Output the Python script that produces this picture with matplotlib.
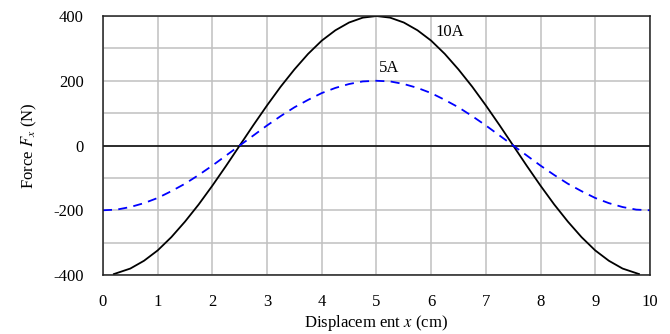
import matplotlib
matplotlib.use("Agg")
import matplotlib.pyplot as plt

plt.rcParams["font.family"] = ["Liberation Serif", "DejaVu Serif"]
plt.rcParams["mathtext.fontset"] = "stix"
plt.rcParams["axes.unicode_minus"] = False

# readings from the reference (x in cm, force in N)
x_10a = [0.2, 0.5, 0.75, 1.0, 1.25, 1.5, 1.75, 2.0, 2.25, 2.5, 2.75,
         3.0, 3.25, 3.5, 3.75, 4.0, 4.25, 4.5, 4.75, 5.0,
         5.25, 5.5, 5.75, 6.0, 6.25, 6.5, 6.75, 7.0, 7.25, 7.5,
         7.75, 8.0, 8.25, 8.5, 8.75, 9.0, 9.25, 9.5, 9.8]
f_10a = [-397, -380, -356, -324, -283, -235, -182, -124, -63, 0, 63,
         124, 182, 235, 283, 324, 356, 380, 395, 400,
         395, 380, 356, 324, 283, 235, 182, 124, 63, 0,
         -63, -124, -182, -235, -283, -324, -356, -380, -397]

x_5a = [0.0, 0.25, 0.5, 0.75, 1.0, 1.25, 1.5, 1.75, 2.0, 2.25, 2.5,
        2.75, 3.0, 3.25, 3.5, 3.75, 4.0, 4.25, 4.5, 4.75, 5.0,
        5.25, 5.5, 5.75, 6.0, 6.25, 6.5, 6.75, 7.0, 7.25, 7.5,
        7.75, 8.0, 8.25, 8.5, 8.75, 9.0, 9.25, 9.5, 9.75, 10.0]
f_5a = [-200, -198, -190, -178, -162, -141, -118, -91, -62, -31, 0,
        31, 62, 91, 118, 141, 162, 178, 190, 198, 200,
        198, 190, 178, 162, 141, 118, 91, 62, 31, 0,
        -31, -62, -91, -118, -141, -162, -178, -190, -198, -200]

x_ticks = list(range(0, 11))
y_ticks = [-400, -200, 0, 200, 400]

fig = plt.figure(figsize=(6.7, 3.34), dpi=100)
ax = fig.add_axes([0.1537, 0.1766, 0.8163, 0.7754])

ax.set_xlim(0, 10)
ax.set_ylim(-400, 400)
ax.set_xticks(x_ticks)
ax.set_yticks(y_ticks)
ax.set_yticks(range(-400, 401, 100), minor=True)
ax.grid(True, which="both", color="#c0c0c0", lw=1.1)
ax.set_axisbelow(True)
ax.tick_params(which="both", length=0, labelsize=12)
ax.tick_params(axis="x", pad=14)
ax.tick_params(axis="y", pad=14)
for s in ax.spines.values():
    s.set_color("#202020")
    s.set_linewidth(1.1)

ax.axhline(0, color="black", lw=1.1)

ax.plot(x_10a, f_10a, color="black", lw=1.3)
ax.plot(x_5a, f_5a, color="#0000ff", lw=1.3, linestyle=(0, (5, 3.5)))

ax.text(6.08, 350, "10A", fontsize=12, va="center", ha="left")
ax.text(5.05, 240, "5A", fontsize=12, va="center", ha="left")

ax.set_xlabel("Displacem ent $x$ (cm)", fontsize=12, labelpad=2)
ax.set_ylabel("Force $F_x$ (N)", fontsize=12, labelpad=10)

fig.savefig("out.png", dpi=100)
